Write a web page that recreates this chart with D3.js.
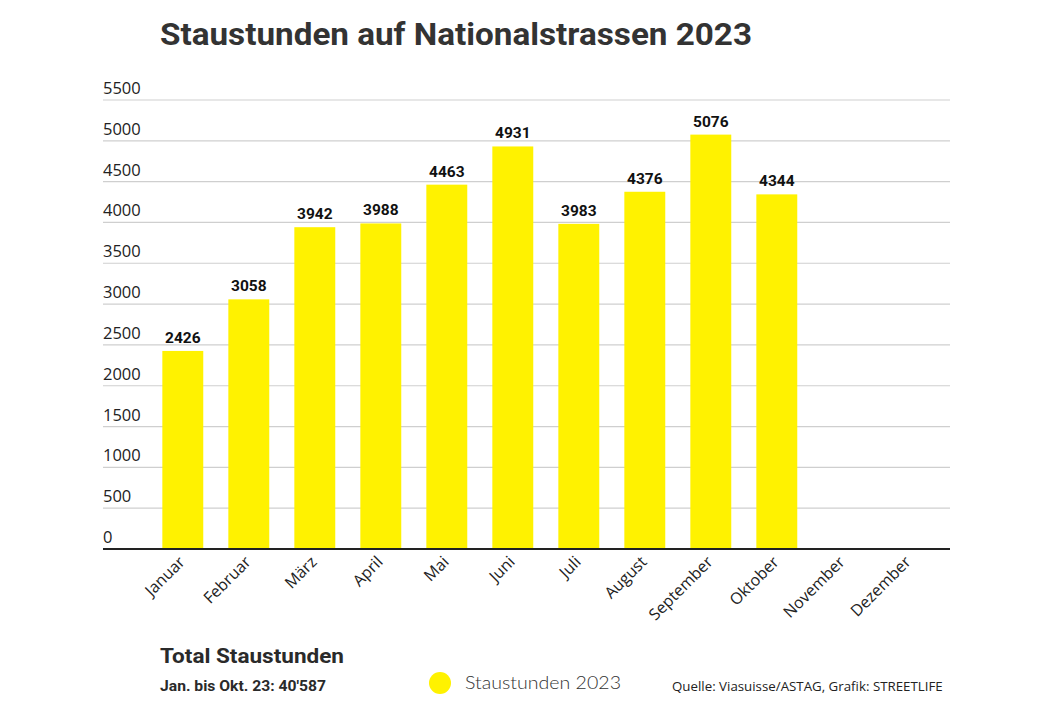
<!DOCTYPE html>
<html><head><meta charset="utf-8">
<script src="https://cdn.jsdelivr.net/npm/d3@7"></script>
<style>body{margin:0;background:#fff}svg{display:block}</style>
</head><body>
<script>
const months = ["Januar","Februar","März","April","Mai","Juni","Juli","August","September","Oktober","November","Dezember"];
const values = [2426,3058,3942,3988,4463,4931,3983,4376,5076,4344,null,null];
const yTicks = [0,500,1000,1500,2000,2500,3000,3500,4000,4500,5000,5500];
const title = "Staustunden auf Nationalstrassen 2023";
const seriesName = "Staustunden 2023";

const W=1040,H=722;
const svg=d3.select("body").append("svg").attr("width",W).attr("height",H);
const x=d3.scaleBand().domain(months).range([149.8,941.8]).paddingInner(0.38).paddingOuter(0.19);
const y=d3.scaleLinear().domain([0,5500]).range([549,100]);
const gx0=103,gx1=950;
const font="'Open Sans', 'Noto Sans', sans-serif";

svg.append("text").attr("x",160).attr("y",45).text(title)
  .attr("font-family","Roboto, sans-serif").attr("font-weight",700).attr("font-size",31)
  .attr("fill","#333").attr("textLength",592).attr("lengthAdjust","spacingAndGlyphs");

// grid
const grid=svg.append("g");
grid.selectAll("line").data(yTicks.filter(d=>d>0)).join("line")
  .attr("x1",gx0).attr("x2",gx1).attr("y1",d=>y(d)).attr("y2",d=>y(d))
  .attr("stroke","#cfcfcf").attr("stroke-width",1.2);
grid.selectAll("text").data(yTicks).join("text")
  .attr("x",gx0).attr("y",d=>y(d)-6).text(d=>d)
  .attr("font-family",font).attr("font-size",16.5).attr("fill","#222");

// bars
const data=months.map((m,i)=>({m,v:values[i]})).filter(d=>d.v!=null);
svg.append("g").selectAll("rect").data(data).join("rect")
  .attr("x",d=>x(d.m)).attr("width",x.bandwidth())
  .attr("y",d=>y(d.v)).attr("height",d=>y(0)-y(d.v)).attr("fill","#FFF200");
svg.append("g").selectAll("text").data(data).join("text")
  .attr("x",d=>x(d.m)+x.bandwidth()/2).attr("y",d=>y(d.v)-8)
  .attr("text-anchor","middle").text(d=>d.v)
  .attr("font-family","Roboto, sans-serif").attr("font-weight",700).attr("font-size",15.5).attr("fill","#111");

// baseline
svg.append("line").attr("x1",gx0).attr("x2",gx1).attr("y1",y(0)).attr("y2",y(0))
  .attr("stroke","#222").attr("stroke-width",2.2);

// x labels
const xa=svg.append("g").attr("transform",`translate(0,${y(0)})`)
  .call(d3.axisBottom(x).tickSize(0).tickPadding(0));
xa.select(".domain").remove();
xa.selectAll("text").attr("font-family",font).attr("font-size",16).attr("fill","#222")
  .attr("text-anchor","end").attr("dy",0)
  .attr("transform","translate(3,14) rotate(-45)");

// footer
svg.append("text").attr("x",160).attr("y",663).text("Total Staustunden")
  .attr("font-family","Roboto, sans-serif").attr("font-weight",700).attr("font-size",21).attr("fill","#2a2a2a")
  .attr("textLength",184).attr("lengthAdjust","spacingAndGlyphs");
svg.append("text").attr("x",160).attr("y",691).text("Jan. bis Okt. 23: 40'587")
  .attr("font-family","Roboto, sans-serif").attr("font-weight",700).attr("font-size",14.5).attr("fill","#2a2a2a")
  .attr("textLength",166).attr("lengthAdjust","spacingAndGlyphs");
svg.append("circle").attr("cx",440).attr("cy",683).attr("r",11).attr("fill","#FFF200");
svg.append("text").attr("x",465).attr("y",689).text(seriesName)
  .attr("font-family","Lato, sans-serif").attr("font-weight",300).attr("font-size",18).attr("fill","#333")
  .attr("textLength",156).attr("lengthAdjust","spacingAndGlyphs");
svg.append("text").attr("x",672).attr("y",691).text("Quelle: Viasuisse/ASTAG, Grafik: STREETLIFE")
  .attr("font-family",font).attr("font-size",13.3).attr("fill","#222");
</script>
</body></html>
